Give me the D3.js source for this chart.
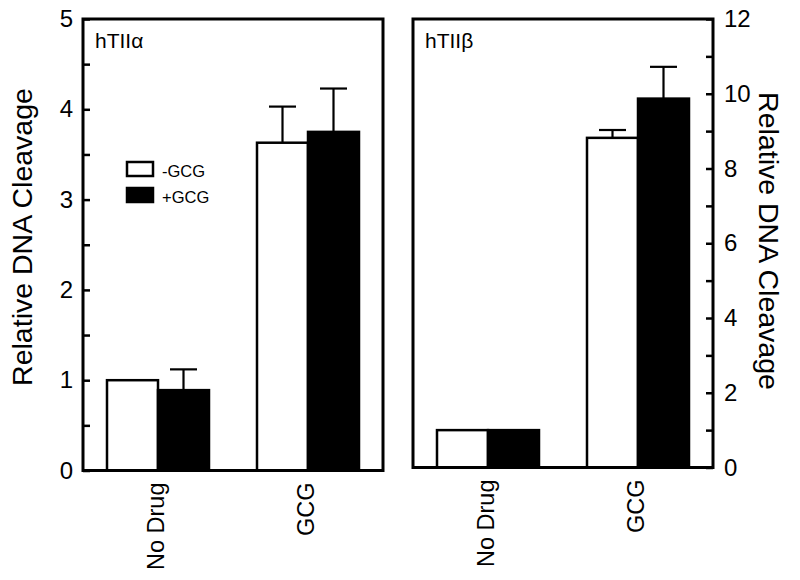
<!DOCTYPE html>
<html><head><meta charset="utf-8">
<script src="https://cdn.jsdelivr.net/npm/d3@7"></script>
<style>body{margin:0;background:#fff}text{font-family:"Liberation Sans",Arial,sans-serif;fill:#000}</style>
</head><body><svg id="c" width="800" height="580"></svg>
<script>
const categories = ["No Drug", "GCG"];
const seriesNames = ["-GCG", "+GCG"];
const seriesFill = ["#ffffff", "#000000"];
// hTIIα
const alphaMinus = [1.0, 3.63];
const alphaMinusErr = [0, 0.40];
const alphaPlus = [0.89, 3.75];
const alphaPlusErr = [0.23, 0.48];
// hTIIβ
const betaMinus = [1.0, 8.82];
const betaMinusErr = [0, 0.21];
const betaPlus = [1.0, 9.87];
const betaPlusErr = [0, 0.85];
const alphaTicks = [0, 1, 2, 3, 4, 5];
const alphaMinor = [0.5, 1.5, 2.5, 3.5, 4.5];
const betaTicks = [0, 2, 4, 6, 8, 10, 12];
const betaMinor = [1, 3, 5, 7, 9, 11];
const yTitle = "Relative DNA Cleavage";

const svg = d3.select("#c");
const panels = [
  {title: "hTII\u03b1", x0: 83, x1: 383, y0: 470.5, y1: 19, max: 5, ticks: alphaTicks, minor: alphaMinor,
   series: [alphaMinus, alphaPlus], errs: [alphaMinusErr, alphaPlusErr], side: "left"},
  {title: "hTII\u03b2", x0: 413, x1: 713, y0: 467.5, y1: 19, max: 12, ticks: betaTicks, minor: betaMinor,
   series: [betaMinus, betaPlus], errs: [betaMinusErr, betaPlusErr], side: "right"}
];

panels.forEach(p => {
  const g = svg.append("g");
  const y = d3.scaleLinear().domain([0, p.max]).range([p.y0, p.y1]);
  const x = d3.scalePoint().domain(categories).range([p.x0, p.x1]).padding(0.5);
  const bw = 51;
  const xs = d3.scaleBand().domain(seriesNames).range([-bw, bw]);

  categories.forEach((c, ci) => {
    seriesNames.forEach((s, si) => {
      const v = p.series[si][ci], e = p.errs[si][ci];
      const bx = x(c) + xs(s);
      const cx = bx + xs.bandwidth() / 2;
      if (e > 0) {
        g.append("line").attr("x1", cx).attr("x2", cx).attr("y1", y(v)).attr("y2", y(v + e))
          .attr("stroke", "#000").attr("stroke-width", 2.2);
        g.append("line").attr("x1", cx - 13.5).attr("x2", cx + 13.5).attr("y1", y(v + e)).attr("y2", y(v + e))
          .attr("stroke", "#000").attr("stroke-width", 2.2);
      }
      g.append("rect").attr("x", bx).attr("width", xs.bandwidth())
        .attr("y", y(v)).attr("height", y(0) - y(v))
        .attr("fill", seriesFill[si]).attr("stroke", "#000").attr("stroke-width", 2.5);
    });
  });

  g.append("rect").attr("x", p.x0).attr("y", p.y1).attr("width", p.x1 - p.x0).attr("height", p.y0 - p.y1)
    .attr("fill", "none").attr("stroke", "#000").attr("stroke-width", 3);

  const left = p.side === "left";
  const ax = left ? d3.axisLeft(y) : d3.axisRight(y);
  const ag = g.append("g").attr("transform", `translate(${left ? p.x0 : p.x1},0)`)
    .call(ax.tickValues(p.ticks).tickFormat(d3.format("d")).tickSize(-7).tickPadding(left ? 10 : 11));
  ag.select(".domain").remove();
  ag.selectAll("line").attr("stroke-width", 2.5);
  ag.selectAll("text").attr("font-size", 24).style("font-family", "Liberation Sans, Arial, sans-serif");
  const mAx = left ? d3.axisLeft(y) : d3.axisRight(y);
  const mg = g.append("g").attr("transform", `translate(${left ? p.x0 : p.x1},0)`)
    .call(mAx.tickValues(p.minor).tickFormat("").tickSize(-7));
  mg.select(".domain").remove();
  mg.selectAll("line").attr("stroke-width", 2.5);

  categories.forEach(c => {
    g.append("text").attr("transform", `translate(${x(c) + 6},${p.y0 + 12}) rotate(-90)`)
      .attr("text-anchor", "end").attr("font-size", 23.5).text(c);
  });

  g.append("text").attr("x", p.x0 + 12).attr("y", 48).attr("font-size", 21).text(p.title);
});

svg.append("text").attr("transform", "translate(32,237) rotate(-90)").attr("text-anchor", "middle")
  .attr("font-size", 28.5).text(yTitle);
svg.append("text").attr("transform", "translate(759,241) rotate(90)").attr("text-anchor", "middle")
  .attr("font-size", 28.5).text(yTitle);

const lg = svg.append("g");
seriesNames.forEach((s, i) => {
  lg.append("rect").attr("x", 127).attr("y", 162 + i * 26).attr("width", 26).attr("height", 14)
    .attr("fill", seriesFill[i]).attr("stroke", "#000").attr("stroke-width", 2.5);
  lg.append("text").attr("x", 162).attr("y", 176.5 + i * 26).attr("font-size", 16.5).text(s);
});
</script></body></html>
